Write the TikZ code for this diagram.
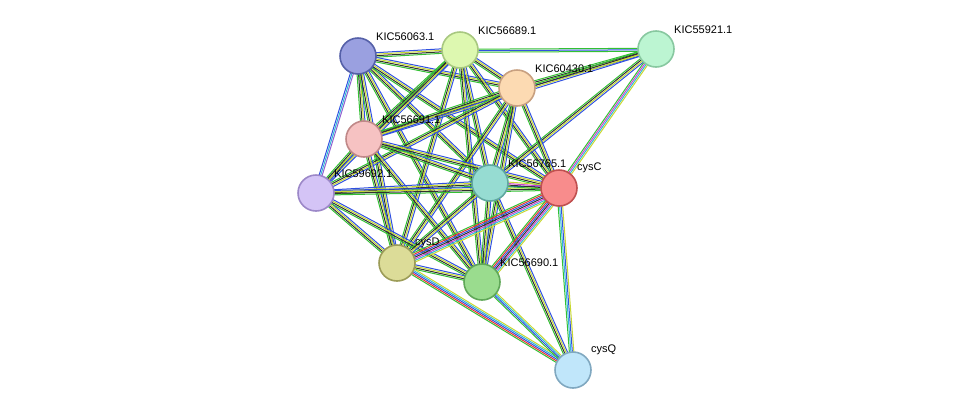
\documentclass[tikz,border=0pt]{standalone}
\usepackage{fontspec}
\setmainfont{Liberation Sans}
\usetikzlibrary{calc,backgrounds}
\definecolor{eGreen}{HTML}{33C033}
\definecolor{eYel}{HTML}{C8D830}
\definecolor{eBlue}{HTML}{3050E0}
\definecolor{eRed}{HTML}{E83030}
\definecolor{eMag}{HTML}{D040D0}
\definecolor{eCyan}{HTML}{30B8D8}
\definecolor{eBlk}{HTML}{303030}
\definecolor{ePur}{HTML}{9060D0}
\tikzset{
  prot/.style 2 args={circle, line width=1.6pt, minimum size=36pt, inner sep=0pt,
    /utils/exec={\definecolor{pF}{HTML}{#1}\definecolor{pD}{HTML}{#2}},
    fill=pF, draw=pD},
  lbl/.style={font=\fontsize{11}{13}\selectfont, inner sep=1pt, anchor=south west}
}
\newcommand\edge[3]{%
  \foreach \c [count=\k] in {#3}{%
    \pgfmathsetmacro\o{(\k-2.5)*1.5}
    \draw[\c, line width=1pt] ($(#1)!\o pt!90:(#2)$) -- ($(#2)!\o pt!-90:(#1)$);
  }}

\begin{document}
\begin{tikzpicture}[x=1pt,y=-1pt]
  \useasboundingbox (0,0) rectangle (976,416);
  % proteins
  \node[prot={9AA0E0}{5560A8}] (k63) at (358,56) {};
  \node[prot={DDF8B0}{A8C880}] (k89) at (460,50) {};
  \node[prot={BCF5D2}{88C8A0}] (k21) at (656,49) {};
  \node[prot={FCDAB2}{C8A080}] (k30) at (517,88) {};
  \node[prot={F6C2C2}{C08888}] (k91) at (364,139) {};
  \node[prot={D4C4F6}{9C88C8}] (k92) at (316,193) {};
  \node[prot={96DCD2}{60A8A0}] (k65) at (490,183) {};
  \node[prot={F88C8C}{C05050}] (cysC) at (559,188) {};
  \node[prot={DCDC98}{9C9C58}] (cysD) at (397,263) {};
  \node[prot={9ADC8E}{60A858}] (k90) at (482,282) {};
  \node[prot={C0E6FA}{80A8C0}] (cysQ) at (573,370) {};
  % labels
  \node[lbl] at ($(k63)+(17,-14)$) {KIC56063.1};
  \node[lbl] at ($(k89)+(17,-14)$) {KIC56689.1};
  \node[lbl] at ($(k21)+(17,-14)$) {KIC55921.1};
  \node[lbl] at ($(k30)+(17,-14)$) {KIC60430.1};
  \node[lbl] at ($(k91)+(17,-14)$) {KIC56691.1};
  \node[lbl] at ($(k92)+(17,-14)$) {KIC59692.1};
  \node[lbl] at ($(k65)+(17,-14)$) {KIC56765.1};
  \node[lbl] at ($(cysC)+(17,-14)$) {cysC};
  \node[lbl] at ($(cysD)+(17,-14)$) {cysD};
  \node[lbl] at ($(k90)+(17,-14)$) {KIC56690.1};
  \node[lbl] at ($(cysQ)+(17,-14)$) {cysQ};
  % interactions
  \begin{scope}[on background layer]
    \foreach \a/\b in {k63/k89,k63/k30,k63/k91,k63/k65,k63/cysC,k63/cysD,k63/k90,
        k89/k30,k89/k91,k89/k92,k89/k65,k89/cysC,k89/cysD,k89/k90,
        k21/k30,k21/k91,k21/k65,k30/k91,k30/k92,k30/k65,k30/cysC,k30/cysD,k30/k90,
        k91/k92,k91/k65,k91/cysC,k91/cysD,k91/k90,k92/k65,k92/cysC,k92/cysD,k92/k90,
        k65/cysD,k65/k90,k65/cysQ,cysD/k90}
      {\edge{\a}{\b}{eGreen,eBlk,eYel,eBlue}}
    \edge{k89}{k21}{eGreen,eBlue,eGreen}
    \edge{k63}{k92}{eBlue,eCyan,ePur}
    \edge{k21}{cysC}{eGreen,eMag,eCyan,eYel}
    \edge{k65}{cysC}{eGreen,eBlk,eMag,eYel}
    \edge{cysC}{cysD}{eGreen,eRed,eBlue,eBlk,eMag,eCyan,eYel}
    \edge{cysC}{k90}{eGreen,eRed,eBlue,eBlk,eMag,eCyan,eYel}
    \edge{cysC}{cysQ}{eGreen,eCyan,eBlue,eYel}
    \edge{cysD}{cysQ}{eGreen,eRed,eBlue,eCyan,eYel}
    \edge{k90}{cysQ}{eGreen,eBlue,eCyan,eYel}
  \end{scope}
\end{tikzpicture}
\end{document}
